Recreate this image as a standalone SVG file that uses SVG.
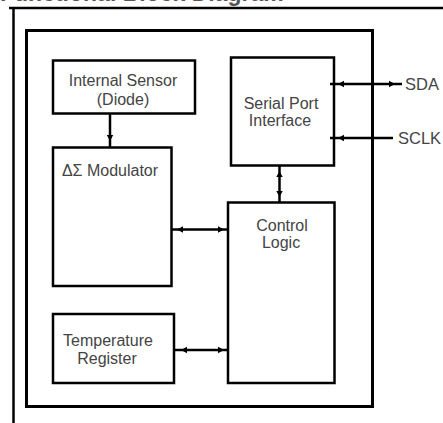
<svg xmlns="http://www.w3.org/2000/svg" width="443" height="423" viewBox="0 0 443 423">
<style>
.box{fill:none;stroke:#000;stroke-width:2.5}
.ln{fill:none;stroke:#000;stroke-width:2.5}
.lbl{font-family:"Liberation Sans",Arial,sans-serif;font-size:16px;fill:#444;text-anchor:middle}
.pin{font-family:"Liberation Sans",Arial,sans-serif;font-size:16.5px;fill:#444}
.ttl{font-family:"Liberation Sans",Arial,sans-serif;font-size:23px;font-weight:bold;fill:#555}
.ah{fill:#000}
</style>
<defs>
<path id="ar" class="ah" d="M0,0 L-6,-3.2 L-6,3.2 Z"/>
</defs>
<text class="ttl" x="0" y="0.5">Functional Block Diagram</text>
<g id="frame">
<line class="ln" x1="9" y1="8" x2="443" y2="8"/>
<line class="ln" x1="13.5" y1="8" x2="13.5" y2="423"/>
<rect x="26.5" y="30.5" width="346" height="376" fill="none" stroke="#000" stroke-width="3"/>
</g>
<g id="connectors">
<line class="ln" x1="110" y1="113.5" x2="110" y2="147.5"/>
<use href="#ar" transform="translate(110,141) rotate(90)"/>
<line class="ln" x1="171.5" y1="229.5" x2="228" y2="229.5"/>
<use href="#ar" transform="translate(177,229.5) rotate(180)"/>
<use href="#ar" transform="translate(224,229.5)"/>
<line class="ln" x1="174" y1="350" x2="228" y2="350"/>
<use href="#ar" transform="translate(181,350) rotate(180)"/>
<use href="#ar" transform="translate(224,350)"/>
<line class="ln" x1="279.5" y1="165.5" x2="279.5" y2="202.5"/>
<use href="#ar" transform="translate(279.5,171) rotate(-90)"/>
<use href="#ar" transform="translate(279.5,197) rotate(90)"/>
<line class="ln" x1="330" y1="84" x2="402" y2="84"/>
<use href="#ar" transform="translate(338,84) rotate(180)"/>
<use href="#ar" transform="translate(395,84)"/>
<line class="ln" x1="330" y1="138" x2="393" y2="138"/>
<use href="#ar" transform="translate(338,138) rotate(180)"/>
</g>
<g id="sensor">
<rect class="box" x="53" y="60.5" width="142" height="53"/>
<text class="lbl" x="123" y="86">Internal Sensor</text>
<text class="lbl" x="123" y="105">(Diode)</text>
</g>
<g id="modulator">
<rect class="box" x="53" y="147.5" width="118.5" height="138.5"/>
<text class="lbl" x="110" y="176">ΔΣ Modulator</text>
</g>
<g id="tempreg">
<rect class="box" x="53" y="314" width="121" height="69"/>
<text class="lbl" x="108" y="346">Temperature</text>
<text class="lbl" x="107" y="364">Register</text>
</g>
<g id="spi">
<rect class="box" x="231" y="57.5" width="103" height="108"/>
<text class="lbl" x="281" y="109">Serial Port</text>
<text class="lbl" x="280" y="126">Interface</text>
</g>
<g id="control">
<rect class="box" x="228" y="202.5" width="106.5" height="180.5"/>
<text class="lbl" x="282" y="231">Control</text>
<text class="lbl" x="281" y="248">Logic</text>
</g>
<g id="pins">
<text class="pin" x="405" y="90">SDA</text>
<text class="pin" x="398" y="144">SCLK</text>
</g>
</svg>
